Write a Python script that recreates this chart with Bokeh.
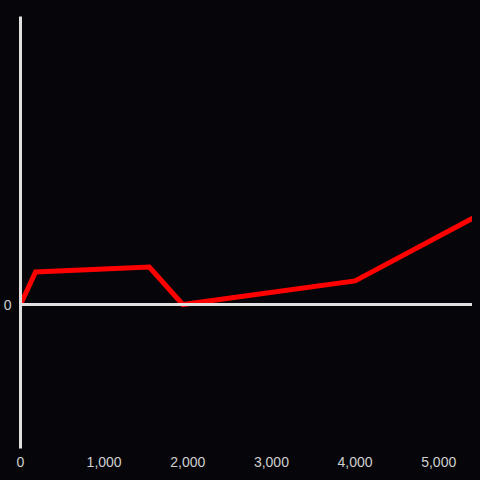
from bokeh.plotting import figure
from bokeh.models import Span, FixedTicker, NumeralTickFormatter, Range1d
from bokeh.embed import file_html
from bokeh.resources import INLINE

# data
xs = [0, 180, 1540, 1940, 4000, 5500]
ys = [0, 0.113, 0.130, 0, 0.082, 0.314]
x_ticks = [0, 1000, 2000, 3000, 4000, 5000]
y_ticks = [0]

BG = "#060509"
AX = "#e0e0e0"
LBL = "#d0d0d0"

p = figure(frame_width=452, frame_height=432, output_backend="svg",
           toolbar_location=None,
           x_range=Range1d(0, 5404), y_range=Range1d(-0.5, 1.0),
           min_border_top=16, min_border_left=10, min_border_bottom=16, min_border_right=0)
p.background_fill_color = BG
p.border_fill_color = BG
p.outline_line_color = None
p.grid.grid_line_color = None

p.line(xs, ys, line_color="#ff0000", line_width=5, line_join="miter")

p.add_layout(Span(location=0, dimension="width", line_color=AX, line_width=3))

xa = p.xaxis[0]
xa.ticker = FixedTicker(ticks=x_ticks)
xa.formatter = NumeralTickFormatter(format="0,0")
xa.axis_line_color = None
xa.major_tick_line_color = None
xa.minor_tick_line_color = None
xa.major_label_text_color = LBL
xa.major_label_text_font = "Liberation Sans"
xa.major_label_text_font_size = "14px"
xa.major_label_standoff = 2

ya = p.yaxis[0]
ya.ticker = FixedTicker(ticks=y_ticks)
ya.axis_line_color = AX
ya.axis_line_width = 3
ya.major_tick_line_color = None
ya.minor_tick_line_color = None
ya.major_label_text_color = LBL
ya.major_label_text_font = "Liberation Sans"
ya.major_label_text_font_size = "14px"
ya.major_label_standoff = 3

tpl = """{% block preamble %}<style>html, body { background-color: #060509; }</style>{% endblock %}"""
open("out.html", "w").write(file_html(p, INLINE, template=tpl))
